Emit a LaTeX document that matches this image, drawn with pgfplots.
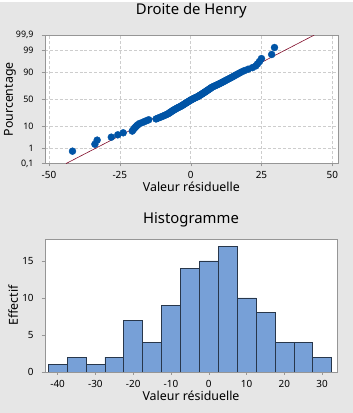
\documentclass[border=0pt]{standalone}
\usepackage{fontspec}
\setmainfont{Noto Sans}
\usepackage{pgfplots}
\pgfplotsset{compat=1.18}
\definecolor{bg}{RGB}{230,230,230}
\definecolor{ptblue}{RGB}{0,84,166}
\definecolor{fitred}{RGB}{128,10,40}
\definecolor{barfill}{RGB}{119,160,215}
\definecolor{baredge}{RGB}{40,55,75}
\definecolor{framec}{RGB}{150,150,150}
\definecolor{gridc}{RGB}{205,205,205}
\pgfplotsset{
  common/.style={
    scale only axis,
    axis background/.style={fill=white},
    axis line style={framec},
    tick style={framec},
    tick align=outside,
    major tick length=3bp,
    xtick pos=left, ytick pos=left,
    /pgf/number format/assume math mode=true,
    tick label style={font=\fontsize{10}{11}\selectfont, inner sep=0pt},
    xticklabel style={anchor=base, yshift=-12.5bp},
    yticklabel style={anchor=east, xshift=-8bp},
    label style={font=\fontsize{12.5}{14}\selectfont},
    title style={font=\fontsize{15}{17}\selectfont, anchor=base},
  }
}
\begin{document}
\begin{tikzpicture}[x=1bp,y=1bp]
\fill[bg] (0,0) rectangle (355,-413);
\begin{axis}[common,
  at={(45bp,-33bp)}, anchor=north west,
  width=295bp, height=129bp,
  xmin=-51.5, xmax=52,
  ymin=0.1, ymax=99.9,
  y coord trafo/.code={\pgfmathparse{4.91*((#1/100)^0.14-(1-#1/100)^0.14)}},
  xtick={-50,-25,0,25,50},
  xticklabels={-50,-25,0,25,50},
  ytick={0.1,1,10,50,90,99,99.9},
  yticklabels={{0,1},1,10,50,90,99,{99,9}},
  yticklabel style={font=\fontsize{9}{10}\selectfont},
  grid=major,
  major grid style={gridc, dash pattern=on 3bp off 2bp},
  title={Droite de Henry},
  title style={at={(axis description cs:0.5,1.115)}},
  xlabel={Valeur résiduelle},
  xlabel style={at={(axis description cs:0.5,-0.217)}, anchor=base},
  ylabel={Pourcentage},
  ylabel style={at={(axis description cs:-0.1186,0.5)}, anchor=center},
]
\addplot[fitred, line width=0.6bp] coordinates {(-44,0.1) (43.6,99.9)};
\addplot[only marks, mark=*, mark size=3.5bp, color=ptblue, mark options={draw=ptblue, fill=ptblue}] coordinates {
(-41.7,0.70) (-33.8,1.69) (-33.0,2.69) (-28.0,3.69) (-25.7,4.68) (-23.8,5.68)
(-20.6,6.67) (-20.2,7.67) (-19.8,8.67) (-19.4,9.66) (-19.0,10.66) (-18.5,11.65) (-18.0,12.65)
(-17.0,13.65) (-16.3,14.64) (-15.5,15.64) (-14.8,16.63)
(-12.2,17.63) (-11.5,18.63) (-10.8,19.62) (-10.2,20.62) (-9.6,21.61) (-9.0,22.61) (-8.5,23.61) (-8.0,24.60) (-7.6,25.60)
(-7.3,26.59) (-7.0,27.59) (-6.6,28.59) (-6.3,29.58) (-6.0,30.58) (-5.6,31.57) (-5.2,32.57) (-4.9,33.57) (-4.5,34.56) (-4.1,35.56) (-3.7,36.55) (-3.3,37.55) (-3.0,38.55) (-2.7,39.54)
(-2.4,40.54) (-2.1,41.53) (-1.8,42.53) (-1.5,43.53) (-1.2,44.52) (-0.9,45.52) (-0.6,46.51) (-0.3,47.51) (0.0,48.51) (0.3,49.50) (0.7,50.50) (1.0,51.49) (1.4,52.49) (1.8,53.48) (2.2,54.48)
(2.6,55.48) (2.9,56.47) (3.2,57.47) (3.5,58.47) (3.8,59.46) (4.1,60.46) (4.4,61.45) (4.7,62.45) (5.0,63.45) (5.3,64.44) (5.6,65.44) (5.9,66.43) (6.2,67.43) (6.5,68.43) (6.8,69.42) (7.1,70.42) (7.4,71.41)
(7.8,72.41) (8.3,73.41) (8.8,74.40) (9.3,75.40) (9.8,76.39) (10.3,77.39) (10.8,78.39) (11.3,79.38) (11.8,80.38) (12.3,81.37)
(12.8,82.37) (13.4,83.37) (14.0,84.36) (14.6,85.36) (15.2,86.35) (15.8,87.35) (16.5,88.35) (17.2,89.34)
(18.0,90.34) (19.0,91.33) (20.3,92.33) (21.8,93.33)
(23.0,94.32) (23.6,95.32) (24.3,96.31) (25.0,97.31)
(28.6,98.31) (29.6,99.30)
};
\end{axis}
\begin{axis}[common,
  at={(45bp,-238.3bp)}, anchor=north west,
  width=294.3bp, height=133.4bp,
  xmin=-43.4, xmax=34,
  ymin=0, ymax=17.9,
  xtick={-40,-30,-20,-10,0,10,20,30},
  ytick={0,5,10,15},
  title={Histogramme},
  title style={at={(axis description cs:0.5,1.075)}},
  xlabel={Valeur résiduelle},
  xlabel style={at={(axis description cs:0.5,-0.212)}, anchor=base},
  ylabel={Effectif},
  ylabel style={at={(axis description cs:-0.1077,0.5)}, anchor=center},
]
\addplot[ybar interval, fill=barfill, draw=baredge, line width=0.6bp] coordinates {
(-42.5,1) (-37.5,2) (-32.5,1) (-27.5,2) (-22.5,7) (-17.5,4) (-12.5,9) (-7.5,14)
(-2.5,15) (2.5,17) (7.5,10) (12.5,8) (17.5,4) (22.5,4) (27.5,2) (32.5,2)
};
\end{axis}
\end{tikzpicture}
\end{document}
